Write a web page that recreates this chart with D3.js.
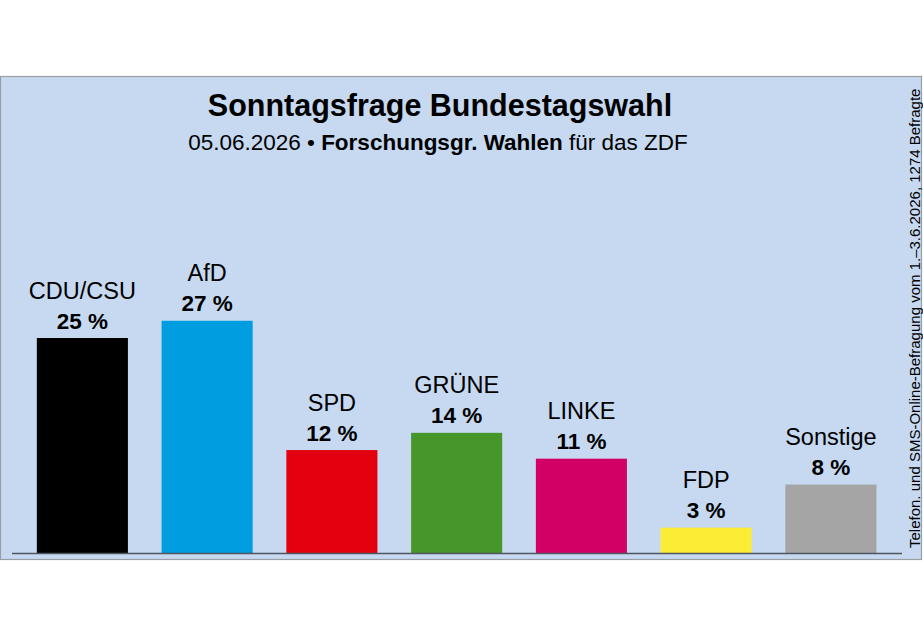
<!DOCTYPE html>
<html>
<head>
<meta charset="utf-8">
<script src="https://cdn.jsdelivr.net/npm/d3@7"></script>
<style>
  body { margin: 0; background: #fff; }
  svg { display: block; font-family: Arial, "Liberation Sans", sans-serif; }
</style>
</head>
<body>
<svg id="drawing_region"></svg>
<script>
// party names, poll values (%) and bar colours
const parties = ['CDU/CSU', 'AfD', 'SPD', 'GRÜNE', 'LINKE', 'FDP', 'Sonstige'];
const values = [25, 27, 12, 14, 11, 3, 8];
const colors = ['#000000', '#009ee0', '#e3000f', '#46962b', '#d20064', '#fbec35', '#a5a5a5'];

const title = 'Sonntagsfrage Bundestagswahl';
const subDate = '05.06.2026 • ';
const subInst = 'Forschungsgr. Wahlen';
const subRest = ' für das ZDF';
const note = 'Telefon. und SMS-Online-Befragung vom 1.–3.6.2026, 1274 Befragte';

const data = parties.map((p, i) => ({ party: p, value: values[i], color: colors[i] }));

const width = 923, height = 630;
const baseY = 553.5;

const svg = d3.select('#drawing_region')
    .attr('width', width)
    .attr('height', height);

// panel
svg.append('rect')
    .attr('x', 0.5).attr('y', 76.5)
    .attr('width', 921).attr('height', 483)
    .attr('fill', '#c6d9f0')
    .attr('stroke', '#9a9ea4')
    .attr('stroke-width', 1.2);

const xscale = d3.scaleBand()
    .domain(parties)
    .range([20, 893.3])
    .paddingInner(0.27)
    .paddingOuter(0.135);

const yscale = d3.scaleLinear()
    .domain([0, 30])
    .range([baseY, baseY - 8.62 * 30]);

svg.selectAll('rect.bar')
    .data(data)
    .enter()
    .append('rect')
    .attr('class', 'bar')
    .attr('x', d => xscale(d.party))
    .attr('y', d => yscale(d.value))
    .attr('width', xscale.bandwidth())
    .attr('height', d => baseY - yscale(d.value))
    .attr('fill', d => d.color);

// baseline
svg.append('line')
    .attr('x1', 12).attr('x2', 902)
    .attr('y1', baseY).attr('y2', baseY)
    .attr('stroke', '#505660')
    .attr('stroke-width', 1.5);

// value labels
svg.selectAll('text.val')
    .data(data)
    .enter()
    .append('text')
    .attr('class', 'val')
    .attr('x', d => xscale(d.party) + xscale.bandwidth() / 2)
    .attr('y', d => yscale(d.value) - 9.5)
    .attr('text-anchor', 'middle')
    .attr('font-size', 22.5)
    .attr('font-weight', 'bold')
    .text(d => d.value + ' %');

// party labels
svg.selectAll('text.name')
    .data(data)
    .enter()
    .append('text')
    .attr('class', 'name')
    .attr('x', d => xscale(d.party) + xscale.bandwidth() / 2)
    .attr('y', d => yscale(d.value) - 39.5)
    .attr('text-anchor', 'middle')
    .attr('font-size', 23.5)
    .text(d => d.party);

// title
svg.append('text')
    .attr('x', 440).attr('y', 116)
    .attr('text-anchor', 'middle')
    .attr('font-size', 30.5)
    .attr('font-weight', 'bold')
    .text(title);

const sub = svg.append('text')
    .attr('x', 438).attr('y', 149.5)
    .attr('text-anchor', 'middle')
    .attr('font-size', 22.5);
sub.append('tspan').text(subDate);
sub.append('tspan').attr('font-weight', 'bold').text(subInst);
sub.append('tspan').text(subRest);

// side note
svg.append('text')
    .attr('transform', 'translate(919.5, 548) rotate(-90)')
    .attr('font-size', 15)
    .text(note);
</script>
</body>
</html>
